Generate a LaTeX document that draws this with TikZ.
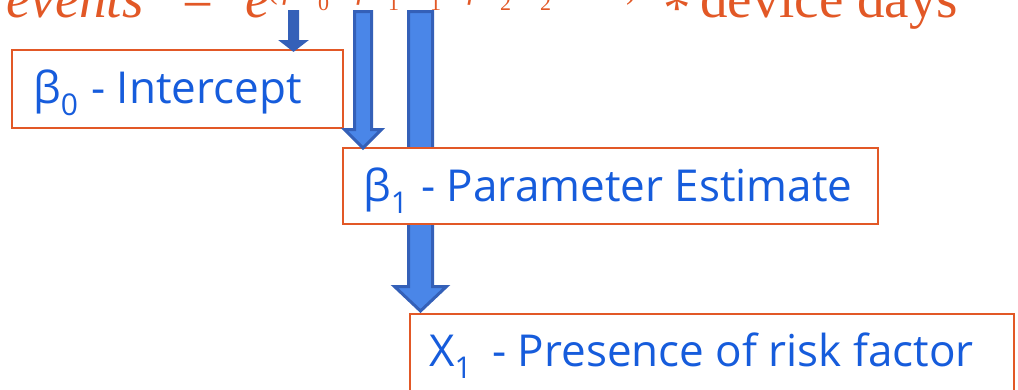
\documentclass[tikz,border=0pt]{standalone}
\usepackage{fontspec}
\setmainfont{Liberation Serif}
\newfontfamily\boxfont{Open Sans}
\usetikzlibrary{calc,backgrounds}

\definecolor{eqorange}{RGB}{226,88,38}
\definecolor{labelblue}{RGB}{22,92,220}
\definecolor{arrowfill}{RGB}{74,134,232}
\definecolor{arrowedge}{RGB}{52,96,184}

% lowered index in the box labels
\newcommand\lowidx[1]{\raisebox{-12pt}{\fontsize{30}{30}\selectfont #1}}
% pieces of the exponent
\newcommand\expsub[1]{\raisebox{-12pt}{\fontsize{22}{22}\selectfont #1}}
\newcommand\slot[2]{\makebox[#1pt][l]{#2}}

% block arrow: source, tip, shaft half width, head half width, head length
\newcommand\blockarrow[6][]{%
  \draw[arrowstyle,#1] let \p1=(#2), \p2=(#3) in
    (\x1-#4,\y1) -- (\x1-#4,\y2+#6) -- (\x1-#5,\y2+#6) -- (\x1,\y2)
    -- (\x1+#5,\y2+#6) -- (\x1+#4,\y2+#6) -- (\x1+#4,\y1) -- cycle;}

\tikzset{
  labelbox/.style={draw=eqorange, line width=2pt, fill=white, inner sep=0pt,
    anchor=north west},
  labeltext/.style={anchor=base west, inner sep=0pt, text=labelblue,
    font=\boxfont\fontsize{44}{48}\selectfont},
  arrowstyle/.style={fill=arrowfill, draw=arrowedge, line width=3pt,
    line join=miter},
}

\begin{document}
\begin{tikzpicture}[x=1pt,y=-1pt]
\clip (0,0) rectangle (1018,389);
\begin{pgfonlayer}{background}
  \fill[white] (0,0) rectangle (1018,389);
\end{pgfonlayer}

% the model equation
\node[anchor=base west, inner sep=0pt, text=eqorange,
      font=\fontsize{55}{60}\selectfont] (eq) at (6,17) {%
  \slot{176}{\itshape events}\slot{63}{=}\slot{22}{\itshape e}%
  \raisebox{19pt}{\fontsize{32}{32}\selectfont
    \slot{16}{(}\slot{35}{\itshape β}\slot{17}{\expsub{0}}\slot{22}{+}%
    \slot{31}{\itshape β}\slot{14}{\expsub{1}}\slot{28}{\itshape X}\slot{17}{\expsub{1}}%
    \slot{21}{+}\slot{32}{\itshape β}\slot{12}{\expsub{2}}\slot{28}{\itshape X}%
    \slot{16}{\expsub{2}}\slot{24}{+}\slot{46}{…}\slot{37}{)}}%
  \slot{37}{\raisebox{-9pt}{*}}device days};

% where the arrows leave the equation
\coordinate (srcA) at (293.5,11.5);
\coordinate (srcB) at (363,11.5);
\coordinate (srcC) at (420.5,11.5);

% boxes
\node[labelbox, minimum width=331pt, minimum height=78pt] (b0) at (11,49) {};
\node[labelbox, minimum width=535pt, minimum height=76pt] (b1) at (342,147) {};
\node[labelbox, minimum width=604pt, minimum height=90pt] (b2) at (409,313) {};

\node[labeltext] (t0) at (33,103) {β\lowidx{0}\hspace{2pt} - Intercept};
\node[labeltext] (t1) at (363,201) {β\lowidx{1}\hspace{2pt} - Parameter Estimate};
\node[labeltext] (t2) at (429,366) {X\lowidx{1}\hspace{9pt} - Presence of risk factor};

% arrows
\begin{pgfonlayer}{background}
  \blockarrow{srcC}{$(b2.north -| srcC)+(0,-2)$}{12pt}{26pt}{24.5pt}
\end{pgfonlayer}
\blockarrow[fill=arrowedge]{srcA}{$(b0.north -| srcA)+(0,1)$}{4pt}{11pt}{8.5pt}
\blockarrow{srcB}{$(b1.north -| srcB)+(0,1)$}{8.5pt}{18.5pt}{18.5pt}
\end{tikzpicture}
\end{document}
